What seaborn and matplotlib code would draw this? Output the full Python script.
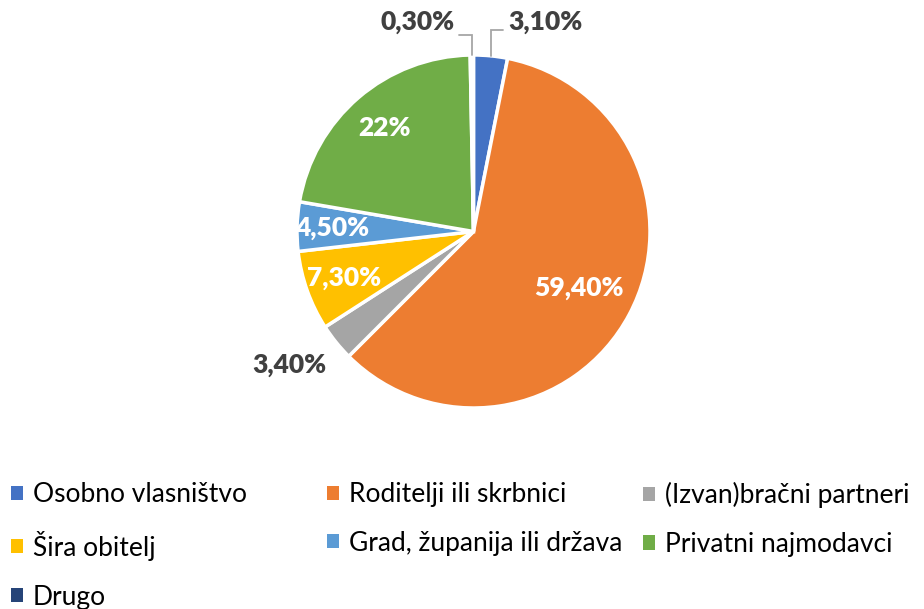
import numpy as np
import matplotlib
matplotlib.use('Agg')
import matplotlib.pyplot as plt
import seaborn as sns
from matplotlib.patches import Patch

# data
categories = ['Osobno vlasništvo', 'Roditelji ili skrbnici', '(Izvan)bračni partneri',
              'Šira obitelj', 'Grad, županija ili država', 'Privatni najmodavci', 'Drugo']
shares = [3.1, 59.4, 3.4, 7.3, 4.5, 22.0, 0.3]
share_labels = ['3,10%', '59,40%', '3,40%', '7,30%', '4,50%', '22%', '0,30%']
colors = ['#4472C4', '#ED7D31', '#A5A5A5', '#FFC000', '#5B9BD5', '#70AD47', '#264478']

sns.set_theme(style='white')
plt.rcParams['font.family'] = ['Lato', 'DejaVu Sans']

W, H = 924, 609
fig = plt.figure(figsize=(W / 100, H / 100), dpi=100)

# pie placement (pixels)
cx, cy, r = 473.5, 231.5, 176.5
ax = fig.add_axes([(cx - r) / W, (H - cy - r) / H, 2 * r / W, 2 * r / H])
wedges, _ = ax.pie(shares, colors=colors, startangle=90, counterclock=False,
                   wedgeprops=dict(edgecolor='white', linewidth=2.5))
ax.set_xlim(-1, 1)
ax.set_ylim(-1, 1)

# label placement: radius factor for inside labels
inside = {1: 0.68, 3: 0.78, 4: 0.80, 5: 0.77}
dark = '#404040'
lab_fs = 19
lab_w = 'heavy'
for i, w in enumerate(wedges):
    ang = np.deg2rad((w.theta1 + w.theta2) / 2)
    ca, sa = np.cos(ang), np.sin(ang)
    if i in inside:
        d = inside[i]
        ax.text(d * ca, d * sa, share_labels[i], ha='center', va='center',
                color='white', fontsize=lab_fs, fontweight=lab_w)
    elif i == 2:
        a2 = ang - np.deg2rad(3)
        ax.text(1.29 * np.cos(a2), 1.29 * np.sin(a2), share_labels[i],
                ha='center', va='center', color=dark, fontsize=lab_fs, fontweight=lab_w)
    else:
        # small slices at the top get leader lines
        side = 1 if ca > 0 else -1
        yh = 1.14 if side > 0 else 1.113
        xe = ca + side * 0.07
        ax.plot([ca, ca, xe], [sa, yh, yh], color='#A6A6A6', lw=1.3,
                solid_joinstyle='miter', clip_on=False)
        ax.text(xe + side * 0.03, 1.187, share_labels[i],
                ha='left' if side > 0 else 'right', va='center',
                color=dark, fontsize=lab_fs, fontweight=lab_w)

# legend laid out in three columns like the original
col_items = [[0, 3, 6], [1, 4], [2, 5]]
col_x = [11, 327, 643]
for items, x in zip(col_items, col_x):
    handles = [Patch(facecolor=colors[k], edgecolor='none') for k in items]
    leg = fig.legend(handles, [categories[k] for k in items],
                     loc='upper left', bbox_to_anchor=(x / W, 1 - 482 / H),
                     frameon=False, fontsize=19, handlelength=0.45, handleheight=0.45,
                     handletextpad=0.38, labelspacing=0.9, borderpad=0,
                     borderaxespad=0)
    for t in leg.get_texts():
        t.set_color('#000000')

fig.savefig('out.png', dpi=100)
